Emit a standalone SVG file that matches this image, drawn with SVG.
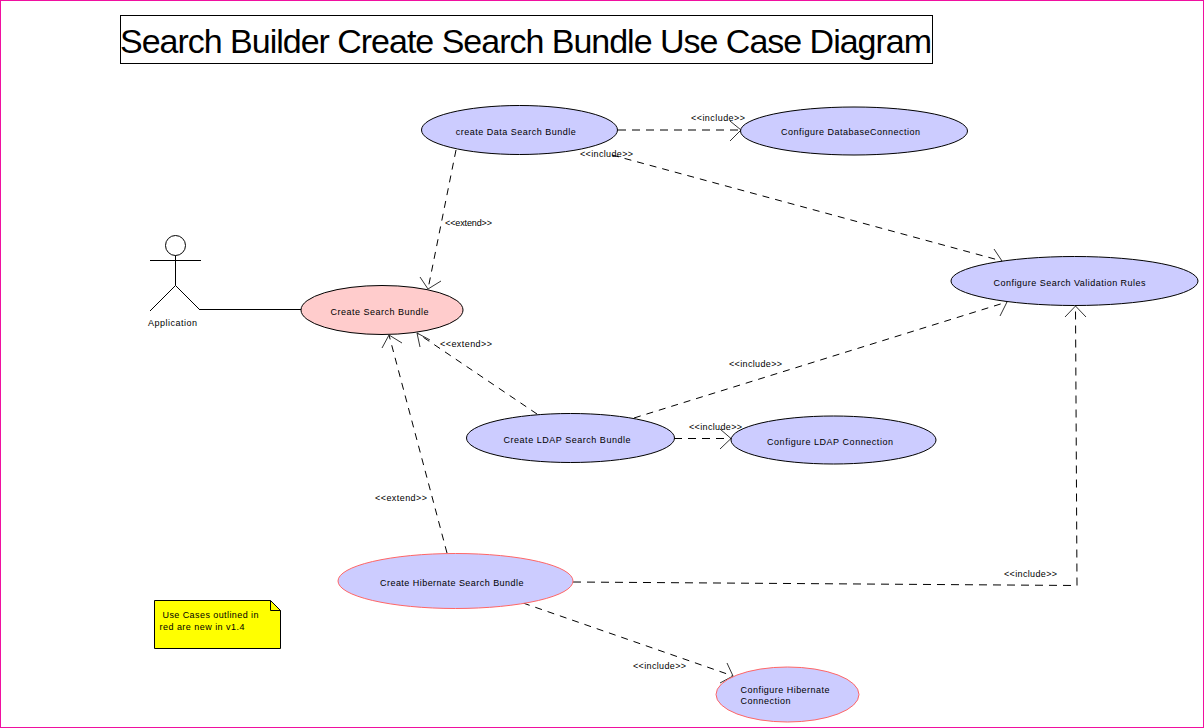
<svg xmlns="http://www.w3.org/2000/svg" width="1204" height="728" viewBox="0 0 1204 728">
<style>
text{font-family:"Liberation Sans",Arial,sans-serif;font-size:9px;fill:#000}
.title{font-size:34px}
.uc{fill:#ccccff;stroke:#000;stroke-width:1}
.red{stroke:#ff6666}
.dash{fill:none;stroke:#000;stroke-width:1;stroke-dasharray:8 6}
.slant{stroke-dasharray:7 6}
.head{fill:none;stroke:#333;stroke-width:1}
.line{fill:none;stroke:#000;stroke-width:1}
</style>
<rect x="0.5" y="0.5" width="1203" height="727" fill="#fff" stroke="#f010a0"/>
<g id="title">
<rect x="120.5" y="15.5" width="812" height="48" fill="#fff" stroke="#000"/>
<text class="title" x="120" y="53" textLength="812" lengthAdjust="spacing">Search Builder Create Search Bundle Use Case Diagram</text>
</g>
<g id="connectors">
<path class="line" d="M200 309.500H301"/>
<path class="dash slant" d="M456 150L428 289"/>
<path class="head" d="M420 277L428 289L441 281"/>
<path class="dash" d="M618 130H741"/>
<path class="head" d="M730 121L741 130L730 141"/>
<path class="dash slant" d="M612 155L1002 261"/>
<path class="head" d="M994 249L1002 261L989 268"/>
<path class="dash slant" d="M537 414L417 333"/>
<path class="head" d="M420 347L417 333L430 340"/>
<path class="dash slant" d="M447 553L389 335"/>
<path class="head" d="M382 348L389 335L402 343"/>
<path class="dash slant" d="M634 418L1007 302"/>
<path class="head" d="M994 295L1007 302L1000 316"/>
<path class="dash" d="M674 438.500H731"/>
<path class="head" d="M720 429L731 438.500L720 449"/>
<path class="dash" d="M573 582L1077 585.500L1075.500 306"/>
<path class="head" d="M1065 317L1075.500 306L1086 317"/>
<path class="dash slant" d="M523 603L733 676"/>
<path class="head" d="M727 663L733 676L720 683"/>
</g>
<g id="actor-application">
<circle class="line" cx="175.500" cy="245.500" r="10"/>
<path class="line" d="M150 260.500H201M175.500 255.500V285.500M150 311L175.500 285.500L200 310"/>
<text x="148" y="326" textLength="49">Application</text>
</g>
<g id="uc-create-search-bundle">
<ellipse class="uc" style="fill:#ffcccc" cx="382" cy="310" rx="81" ry="24.500"/>
<text x="330.500" y="315" textLength="98">Create Search Bundle</text>
</g>
<g id="uc-create-data-search-bundle">
<ellipse class="uc" cx="519.500" cy="130" rx="98" ry="24.500"/>
<text x="455.700" y="135" textLength="120">create Data Search Bundle</text>
</g>
<g id="uc-configure-database-connection">
<ellipse class="uc" cx="854" cy="131" rx="113.500" ry="24"/>
<text x="781" y="135" textLength="139">Configure DatabaseConnection</text>
</g>
<g id="uc-configure-search-validation-rules">
<ellipse class="uc" cx="1074.500" cy="281" rx="123.500" ry="24.500"/>
<text x="993.500" y="286" textLength="152">Configure Search Validation Rules</text>
</g>
<g id="uc-create-ldap-search-bundle">
<ellipse class="uc" cx="570.500" cy="438" rx="104" ry="24.500"/>
<text x="503.500" y="443" textLength="127">Create LDAP Search Bundle</text>
</g>
<g id="uc-configure-ldap-connection">
<ellipse class="uc" cx="833.500" cy="440" rx="102.500" ry="24"/>
<text x="767" y="445" textLength="126">Configure LDAP Connection</text>
</g>
<g id="uc-create-hibernate-search-bundle">
<ellipse class="uc red" cx="455.500" cy="581" rx="117.500" ry="27.500"/>
<text x="380" y="586" textLength="143.500">Create Hibernate Search Bundle</text>
</g>
<g id="uc-configure-hibernate-connection">
<ellipse class="uc red" cx="787.500" cy="694.500" rx="71.500" ry="27.500"/>
<text x="740.500" y="693" textLength="89">Configure Hibernate</text>
<text x="740.500" y="704" textLength="50">Connection</text>
</g>
<g id="labels">
<text x="691" y="121" textLength="54">&lt;&lt;include&gt;&gt;</text>
<text x="580" y="157" textLength="53">&lt;&lt;include&gt;&gt;</text>
<text x="445" y="226" textLength="47">&lt;&lt;extend&gt;&gt;</text>
<text x="440" y="347" textLength="52">&lt;&lt;extend&gt;&gt;</text>
<text x="729" y="367" textLength="53">&lt;&lt;include&gt;&gt;</text>
<text x="689" y="430" textLength="53">&lt;&lt;include&gt;&gt;</text>
<text x="375" y="501" textLength="52">&lt;&lt;extend&gt;&gt;</text>
<text x="1004" y="577" textLength="53">&lt;&lt;include&gt;&gt;</text>
<text x="633" y="669" textLength="53">&lt;&lt;include&gt;&gt;</text>
</g>
<g id="note">
<path d="M154.500 600.500H270.500L280.500 610.500V648.500H154.500Z" fill="#ffff00" stroke="#000"/>
<path d="M270.500 600.500V610.500H280.500" fill="none" stroke="#000"/>
<text x="162.500" y="618" textLength="96">Use Cases outlined in</text>
<text x="159.500" y="630" textLength="85">red are new in v1.4</text>
</g>
</svg>
